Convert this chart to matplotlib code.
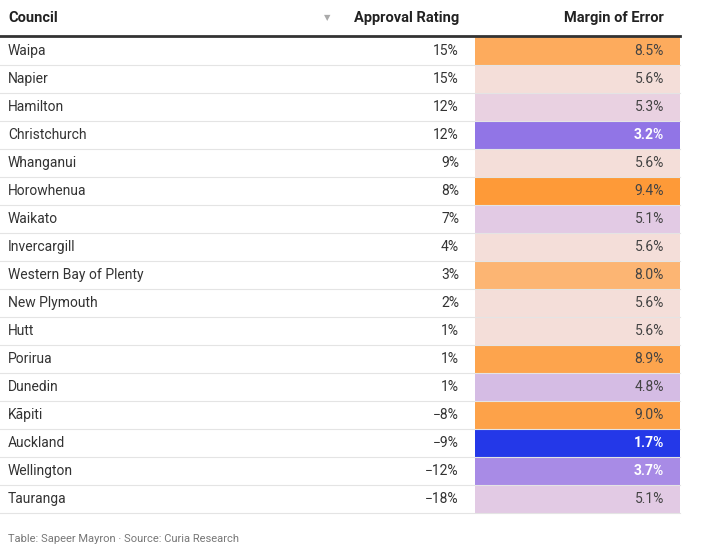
import matplotlib
matplotlib.use("Agg")
import matplotlib.pyplot as plt
from matplotlib.colors import LinearSegmentedColormap, Normalize

councils = ["Waipa", "Napier", "Hamilton", "Christchurch", "Whanganui", "Horowhenua",
            "Waikato", "Invercargill", "Western Bay of Plenty", "New Plymouth", "Hutt",
            "Porirua", "Dunedin", "Kāpiti", "Auckland", "Wellington", "Tauranga"]
approval = [15, 15, 12, 12, 9, 8, 7, 4, 3, 2, 1, 1, 1, -8, -9, -12, -18]
margin = [8.5, 5.6, 5.3, 3.2, 5.6, 9.4, 5.1, 5.6, 8.0, 5.6, 5.6, 8.9, 4.8, 9.0, 1.7, 3.7, 5.1]

cmap = LinearSegmentedColormap.from_list("moe", [
    (0.0, "#2438e8"), (0.2, "#9577e6"), (0.45, "#e4cce4"),
    (0.52, "#f8e3d6"), (1.0, "#fe9a38")])
norm = Normalize(vmin=1.7, vmax=9.4)

plt.rcParams['font.family'] = ['Roboto', 'DejaVu Sans']
fig = plt.figure(figsize=(7.06, 5.53), dpi=100)
ax = fig.add_axes([0, 0, 1, 1])
ax.set_xlim(0, 706)
ax.set_ylim(553, 0)
ax.axis("off")

dark = "#222222"
ax.text(8, 18, "Council", fontsize=10.5, fontweight="bold", color=dark, va="center")
ax.text(459, 18, "Approval Rating", fontsize=10.5, fontweight="bold", color=dark, va="center", ha="right")
ax.text(327, 18, "▼", fontsize=6, color="#aaaaaa", va="center", ha="center")
ax.text(664, 18, "Margin of Error", fontsize=10.5, fontweight="bold", color=dark, va="center", ha="right")
ax.plot([0, 680], [36, 36], color="#333333", lw=2)

top, h = 37, 28
for i, (c, a, m) in enumerate(zip(councils, approval, margin)):
    y0 = top + i * h
    yc = y0 + h / 2
    ax.add_patch(plt.Rectangle((475, y0), 205, h, color=cmap(norm(m)), lw=0))
    ax.text(8, yc, c, fontsize=10, color="#333333", va="center")
    lab = f"{a}%" if a >= 0 else f"\u2212{-a}%"
    ax.text(459, yc, lab, fontsize=10, color="#333333", va="center", ha="right")
    white = m < 4
    ax.text(664, yc, f"{m:.1f}%", fontsize=10, va="center", ha="right",
            color="white" if white else "#444444", fontweight="bold" if white else "normal")
    ax.plot([0, 680], [y0 + h, y0 + h], color="#e4e4e4", lw=0.8)

ax.text(8, 539, "Table: Sapeer Mayron · Source: Curia Research", fontsize=8, color="#777777", va="center")
fig.savefig("out.png", dpi=100)
